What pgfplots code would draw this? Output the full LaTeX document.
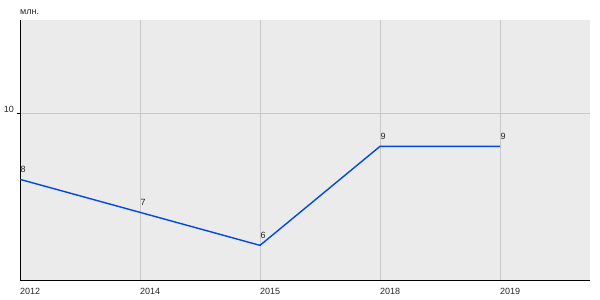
\documentclass[border=0pt]{standalone}
\usepackage{fontspec}
\setmainfont{Liberation Sans}
\usepackage{pgfplots}
\pgfplotsset{compat=1.18}
\definecolor{bgc}{RGB}{235,235,235}
\definecolor{gridc}{RGB}{200,200,200}
\definecolor{linec}{RGB}{0,72,224}
\begin{document}
\begin{tikzpicture}
\path[use as bounding box] (-20bp,-20bp) rectangle (580bp,280bp);
\begin{axis}[
  scale only axis,
  width=570bp, height=260bp,
  xmin=0, xmax=4.75,
  ymin=4.95, ymax=12.83,
  axis x line*=bottom, axis y line*=left,
  axis line style={black, line width=0.8bp},
  axis background/.style={fill=bgc},
  xtick={0,1,2,3,4},
  xticklabels={2012,2014,2015,2018,2019},
  ytick={10},
  xmajorgrids, ymajorgrids,
  major grid style={gridc, line width=0.8bp},
  major x tick style={draw=none},
  major y tick style={black, line width=0.8bp},
  tick align=outside,
  major tick length=3bp,
  /pgf/number format/assume math mode=true,
  tick label style={font=\fontsize{9bp}{10bp}\selectfont, text=black!85},
  xticklabel style={anchor=north west, inner sep=0pt, yshift=-5bp, xshift=0bp},
  yticklabel style={anchor=base east, inner sep=0pt, xshift=-3bp, yshift=1bp},
  nodes near coords,
  point meta=explicit symbolic,
  nodes near coords style={anchor=base west, inner sep=0pt, yshift=7bp, font=\fontsize{9bp}{10bp}\selectfont, text=black!85},
  clip=false,
]
\addplot[linec, line width=1.4bp, mark=none] table[meta=label] {
x y label
0 8 8
1 7 7
2 6 6
3 9 9
4 9 9
};
\node[anchor=base west, inner sep=0pt, font=\fontsize{9bp}{10bp}\selectfont, text=black!85] at ([yshift=5bp]rel axis cs:0,1) {млн.};
\end{axis}
\end{tikzpicture}
\end{document}
